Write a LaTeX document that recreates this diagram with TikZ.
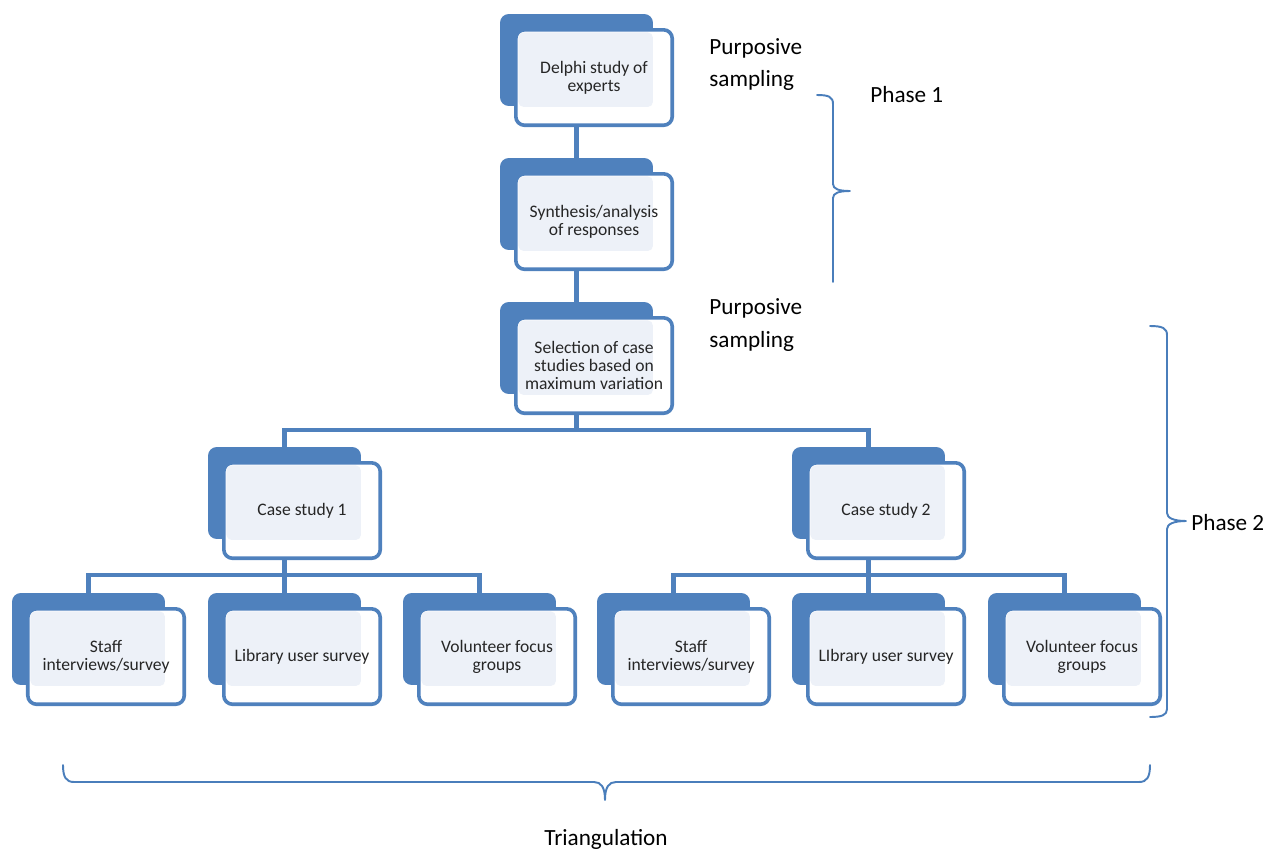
\documentclass[tikz,border=0pt]{standalone}
\usepackage{fontspec}
\setmainfont{Carlito}
\usetikzlibrary{backgrounds}
\definecolor{smartblue}{HTML}{4F81BD}
\definecolor{bracecol}{HTML}{4A7EBB}
\definecolor{paleblue}{HTML}{EDF1F8}
\definecolor{textgray}{HTML}{262626}

% one SmartArt-like block: name, x, y of the dark back card, text
\newcommand{\caseblock}[4]{%
  \node[backbox] (#1-b) at (#2,#3) {};
  \node[frontbox] (#1-f) at ([shift={(15.8,15.8)}]#1-b.north west) {};
  \fill[paleblue, rounded corners=3pt] ([shift={(2.6,2.6)}]#1-f.north west) rectangle ([shift={(0,1)}]#1-b.south east);
  \node[boxtext] (#1) at (#1-f.center) {#4};
}

\begin{document}
\begin{tikzpicture}[x=0.02cm, y=-0.02cm, line join=round, line cap=round,
	backbox/.style={anchor=north west, fill=smartblue, rounded corners=5pt, minimum width=3.06cm, minimum height=1.84cm, inner sep=0pt, outer sep=0pt},
	frontbox/.style={anchor=north west, draw=smartblue, fill=white, line width=2.05pt, rounded corners=5pt, minimum width=3.13cm, minimum height=1.91cm, inner sep=0pt, outer sep=0pt},
	boxtext/.style={align=center, text=textgray, font=\fontsize{10}{10.3}\selectfont, inner sep=0pt},
	conn/.style={draw=smartblue, line width=2.3pt, line cap=butt},
	brace/.style={draw=bracecol, line width=1.1pt},
	label/.style={align=left, font=\fontsize{13.2}{18.7}\selectfont, inner sep=0pt}]
	\useasboundingbox (0,0) rectangle (1269,849);

	\caseblock{delphi}{500}{14}{Delphi study of\\experts}
	\caseblock{synth}{500}{158}{Synthesis/analysis\\of responses}
	\caseblock{select}{500}{302}{Selection of case\\studies based on\\maximum variation}
	\caseblock{case1}{208}{447}{Case study 1}
	\caseblock{case2}{792}{447}{Case study 2}
	\caseblock{staff1}{12}{593}{Staff\\interviews/survey}
	\caseblock{user1}{208}{593}{Library user survey}
	\caseblock{focus1}{403}{593}{Volunteer focus\\groups}
	\caseblock{staff2}{597}{593}{Staff\\interviews/survey}
	\caseblock{user2}{792}{593}{LIbrary user survey}
	\caseblock{focus2}{988}{593}{Volunteer focus\\groups}

	\begin{scope}[on background layer]
		\draw[conn] (delphi-b.south) -- (synth-b.north);
		\draw[conn] (synth-b.south) -- (select-b.north);
		\draw[conn] (case1-b.north) -- ++(0,-17) coordinate (j1) -| (case2-b.north);
		\draw[conn] (select-b.south) -- (select-b.south |- j1);
		\draw[conn] (staff1-b.north) -- ++(0,-18) coordinate (j2) -| (focus1-b.north);
		\draw[conn] (case1-b.south) -- (user1-b.north);
		\draw[conn] (staff2-b.north) -- ++(0,-18) coordinate (j3) -| (focus2-b.north);
		\draw[conn] (case2-b.south) -- (user2-b.north);
	\end{scope}

	% braces
	\draw[brace] (817,95) .. controls (829,95) and (833,97) .. (833,104) -- (833,184)
		.. controls (833,189) and (839,191) .. (850,191)
		.. controls (839,191) and (833,193) .. (833,198) -- (833,282);
	\draw[brace] (1150,326) .. controls (1162,326) and (1167,328) .. (1167,335) -- (1167,513)
		.. controls (1167,518) and (1174,521) .. (1186,521)
		.. controls (1174,521) and (1167,524) .. (1167,529) -- (1167,709)
		.. controls (1167,715) and (1162,717) .. (1150,717);
	\draw[brace] (63,765) .. controls (63,777) and (66,782) .. (74,782) -- (594,782)
		.. controls (601,782) and (605,787) .. (605,800)
		.. controls (605,787) and (609,782) .. (616,782) -- (1139,782)
		.. controls (1147,782) and (1150,777) .. (1150,765);

	\node[label, anchor=west] (purp1) at (709,64.5) {Purposive\\sampling};
	\node[label, anchor=west] (purp2) at (709,325) {Purposive\\sampling};
	\node[label, anchor=west] (phase1) at (870,95) {Phase 1};
	\node[label, anchor=west] (phase2) at (1191,523) {Phase 2};
	\node[label] (triang) at (606,839) {Triangulation};
\end{tikzpicture}
\end{document}
